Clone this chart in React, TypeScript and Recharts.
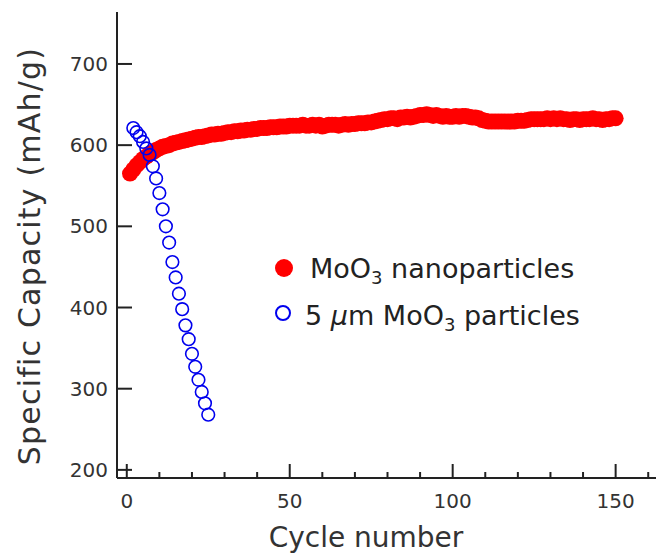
import { Label, Legend, Scatter, ScatterChart, XAxis, YAxis } from "recharts";

// MoO3 nanoparticles, specific capacity (mAh/g) for cycles 1..150
const nanoCapacity = [
  565, 570, 575, 579, 583, 586, 589, 591, 594, 596,
  598, 599, 600, 602, 603, 604, 605, 606, 607, 608,
  609, 610, 610, 611, 612, 613, 613, 614, 614, 615,
  616, 616, 617, 617, 618, 618, 619, 619, 620, 620,
  621, 621, 621, 622, 622, 622, 623, 623, 623, 624,
  624, 624, 624, 625, 624, 624, 625, 624, 625, 623,
  624, 625, 625, 625, 624, 625, 626, 625, 626, 626,
  627, 627, 627, 628, 628, 629, 630, 631, 632, 632,
  633, 633, 632, 634, 634, 635, 634, 635, 636, 637,
  637, 638, 637, 636, 637, 636, 635, 636, 635, 635,
  636, 635, 636, 636, 635, 634, 634, 633, 631, 630,
  629, 629, 629, 629, 629, 629, 629, 629, 629, 630,
  630, 630, 631, 632, 632, 632, 632, 632, 633, 632,
  633, 632, 633, 632, 632, 631, 632, 632, 631, 632,
  632, 632, 633, 632, 632, 631, 632, 632, 633, 633
];

// 5 um MoO3 particles, cycles 2..25
const microFirstCycle = 2;
const microCapacity = [
  621, 616, 611, 604, 596, 588, 574, 559, 541, 521,
  500, 480, 456, 437, 417, 398, 378, 361, 343, 327,
  311, 296, 282, 268
];

const xTicks = [0, 10, 20, 30, 40, 50, 60, 70, 80, 90, 100, 110, 120, 130, 140, 150, 160];
const xLabelTicks = [0, 50, 100, 150];
const yTicks = [200, 300, 400, 500, 600, 700];

const nanoData = nanoCapacity.map((v, i) => ({ cycle: i + 1, capacity: v }));
const microData = microCapacity.map((v, i) => ({ cycle: i + microFirstCycle, capacity: v }));

const FONT = "'DejaVu Sans', Verdana, sans-serif";
const AXIS = "#222";
const TEXT = "#333";

const BottomTick = ({ x, y, payload }: any) => {
  const major = xLabelTicks.includes(payload.value);
  return (
    <g>
      <line x1={x} x2={x} y1={y} y2={y - (major ? 14 : 6)} stroke={AXIS} strokeWidth={2} />
      {major && (
        <text x={x} y={y + 30} textAnchor="middle" fontSize={20} fill={TEXT} fontFamily={FONT}>
          {payload.value}
        </text>
      )}
    </g>
  );
};

const TopTick = ({ x, y, payload }: any) => {
  const major = xLabelTicks.includes(payload.value);
  return <line x1={x} x2={x} y1={y} y2={y + (major ? 15 : 6)} stroke={AXIS} strokeWidth={2} />;
};

const LeftTick = ({ x, y, payload }: any) => (
  <g>
    <line x1={x} x2={x + 15} y1={y} y2={y} stroke={AXIS} strokeWidth={2} />
    <text x={x - 9} y={y + 7} textAnchor="end" fontSize={20} fill={TEXT} fontFamily={FONT}>
      {payload.value}
    </text>
  </g>
);

const RightTick = ({ x, y }: any) => <line x1={x} x2={x - 14} y1={y} y2={y} stroke={AXIS} strokeWidth={2} />;

const LegendBox = () => (
  <svg width={340} height={100} style={{ display: "block" }}>
    <circle cx={22} cy={23} r={9} fill="#ff0000" />
    <text x={48} y={33} fontSize={27} fill="#222" fontFamily={FONT}>
      MoO<tspan fontSize={18} dy={6}>3</tspan>
      <tspan dy={-6}> nanoparticles</tspan>
    </text>
    <circle cx={21} cy={68} r={7} fill="none" stroke="#0000ee" strokeWidth={2} />
    <text x={43} y={80} fontSize={27} fill="#222" fontFamily={FONT}>
      5 <tspan fontStyle="italic">μ</tspan>m MoO<tspan fontSize={18} dy={6}>3</tspan>
      <tspan dy={-6}> particles</tspan>
    </text>
  </svg>
);

export default function App() {
  return (
    <div style={{ position: "absolute", left: 0, top: 0, width: 656, height: 553, overflow: "hidden", background: "#fff" }}>
      <ScatterChart width={680} height={553} margin={{ top: 12, right: 22, bottom: 0, left: 0 }}>
        <XAxis
          dataKey="cycle"
          type="number"
          domain={[-3, 163]}
          ticks={xTicks}
          interval={0}
          height={75}
          tickSize={0}
          tickMargin={0}
          tickLine={false}
          axisLine={{ stroke: AXIS, strokeWidth: 2 }}
          tick={BottomTick}
        >
          <Label
            content={() => (
              <text x={366} y={547} textAnchor="middle" fontSize={28} fill={TEXT} fontFamily={FONT}>
                Cycle number
              </text>
            )}
          />
        </XAxis>
        <XAxis
          xAxisId="top"
          orientation="top"
          type="number"
          domain={[-3, 163]}
          ticks={xTicks}
          interval={0}
          height={0}
          tickSize={0}
          tickMargin={0}
          tickLine={false}
          axisLine={{ stroke: AXIS, strokeWidth: 2 }}
          tick={TopTick}
        />
        <YAxis
          dataKey="capacity"
          type="number"
          domain={[190, 764]}
          ticks={yTicks}
          interval={0}
          width={117}
          tickSize={0}
          tickMargin={0}
          tickLine={false}
          axisLine={{ stroke: AXIS, strokeWidth: 2 }}
          tick={LeftTick}
        >
          <Label
            content={() => (
              <text
                x={40}
                y={256}
                transform="rotate(-90 40 256)"
                textAnchor="middle"
                fontSize={30}
                letterSpacing={1.2}
                fill={TEXT}
                fontFamily={FONT}
              >
                Specific Capacity (mAh/g)
              </text>
            )}
          />
        </YAxis>
        <YAxis
          yAxisId="right"
          orientation="right"
          type="number"
          domain={[190, 764]}
          ticks={yTicks}
          interval={0}
          width={0}
          tickSize={0}
          tickMargin={0}
          tickLine={false}
          axisLine={{ stroke: AXIS, strokeWidth: 2 }}
          tick={RightTick}
        />
        <Legend
          layout="vertical"
          align="center"
          verticalAlign="middle"
          wrapperStyle={{ left: 262, top: 245, width: 340, height: 100 }}
          content={() => <LegendBox />}
        />
        <Scatter
          name="MoO3 nanoparticles"
          data={nanoData}
          isAnimationActive={false}
          shape={(p: any) => <circle cx={p.cx} cy={p.cy} r={8} fill="#ff0000" />}
        />
        <Scatter
          name="5 μm MoO3 particles"
          data={microData}
          isAnimationActive={false}
          shape={(p: any) => <circle cx={p.cx} cy={p.cy} r={6.3} fill="none" stroke="#0000ee" strokeWidth={1.6} />}
        />
      </ScatterChart>
    </div>
  );
}
